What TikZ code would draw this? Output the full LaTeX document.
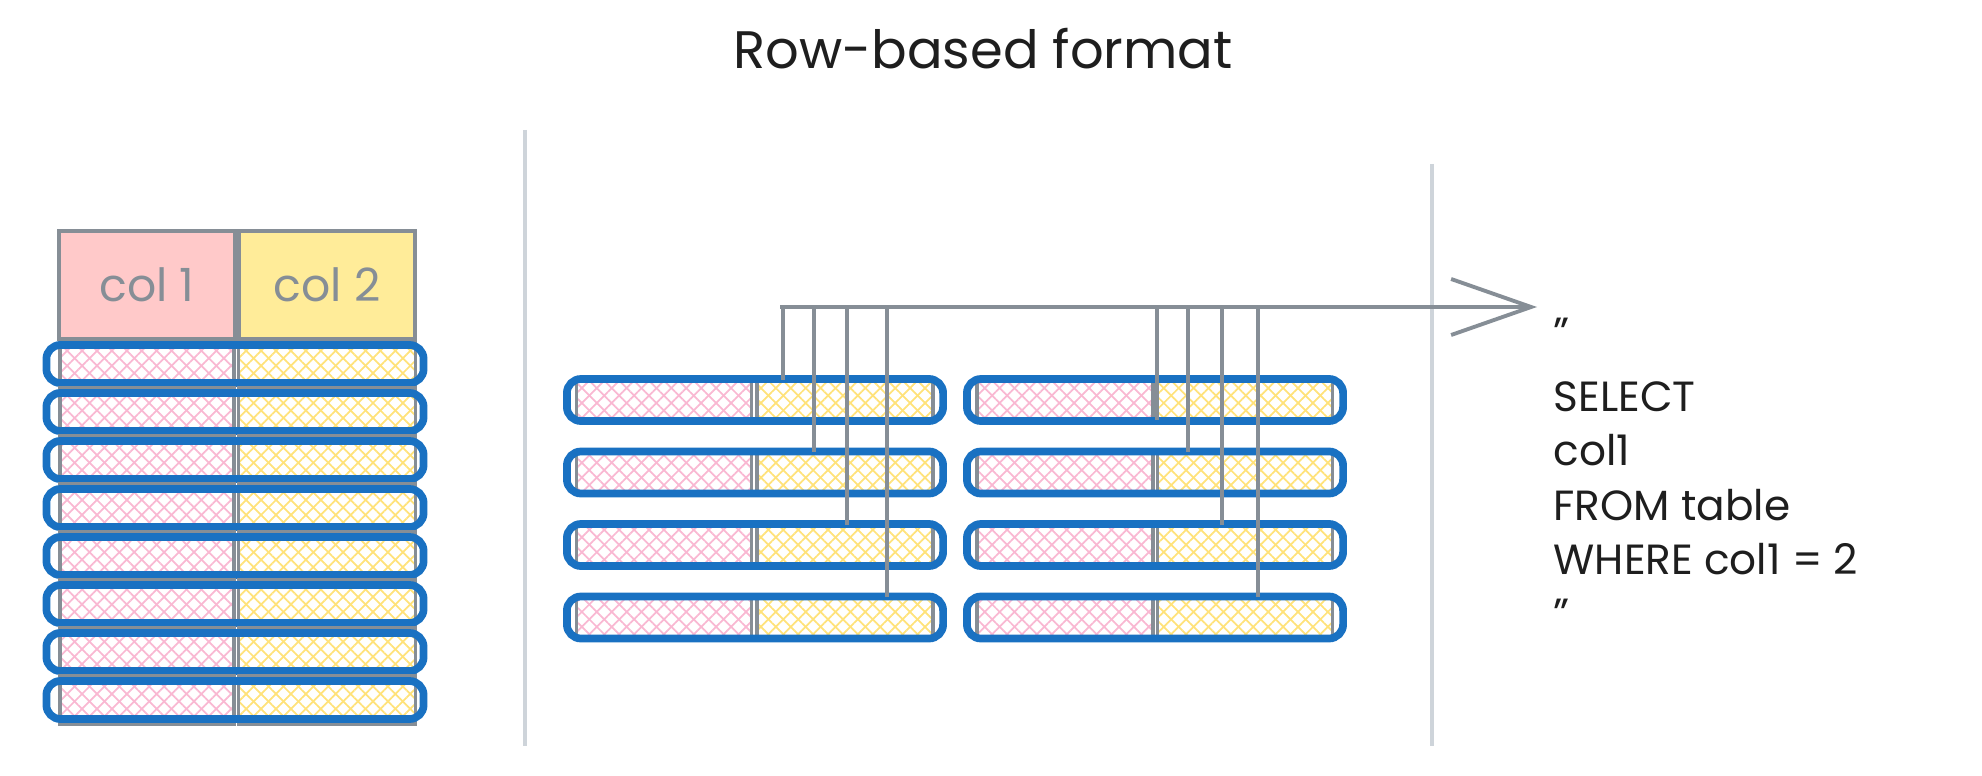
\documentclass[tikz,border=0pt]{standalone}
\usepackage{fontspec}
\setmainfont{Poppins}
\usetikzlibrary{patterns.meta,arrows.meta}

\definecolor{sketchblue}{HTML}{1971C2}
\definecolor{sketchgrey}{HTML}{868E96}
\definecolor{rulegrey}{HTML}{CED4DA}
\definecolor{headpink}{HTML}{FFC9C9}
\definecolor{headyellow}{HTML}{FFEC99}
\definecolor{hatchpink}{HTML}{F9B8D2}
\definecolor{hatchyellow}{HTML}{FFE27A}
\definecolor{inkblack}{HTML}{1E1E1E}

\tikzset{
  cell/.style={draw=sketchgrey, line width=1pt, inner sep=0pt, outer sep=0pt},
  pinkcell/.style={cell,
    preaction={pattern={Lines[angle=45,distance=3pt,line width=0.5pt]}, pattern color=hatchpink},
    preaction={pattern={Lines[angle=-45,distance=3pt,line width=0.5pt]}, pattern color=hatchpink}},
  yellowcell/.style={cell,
    preaction={pattern={Lines[angle=45,distance=3pt,line width=0.5pt]}, pattern color=hatchyellow},
    preaction={pattern={Lines[angle=-45,distance=3pt,line width=0.5pt]}, pattern color=hatchyellow}},
  headcell/.style={cell, minimum width=1.76cm, minimum height=1.08cm,
    text=sketchgrey, font=\fontsize{13}{15}\selectfont},
  rowbox/.style={draw=sketchblue, line width=2.2pt, rounded corners=4pt,
    inner sep=0pt, outer sep=0pt},
  wire/.style={draw=sketchgrey, line width=1.1pt},
  divider/.style={draw=rulegrey, line width=1.2pt}
}

\begin{document}
\begin{tikzpicture}[x=0.01cm, y=-0.01cm]
  \useasboundingbox (0,0) rectangle (1982,776);

  % Title
  \node[text=inkblack, font=\fontsize{15}{18}\selectfont] (title) at (983,49) {Row-based format};

  % Dividers
  \draw[divider] (525,130) -- (525,746);
  \draw[divider] (1432,164) -- (1432,746);

  % Table with its header
  \node[headcell, fill=headpink] (h1) at (147,285) {col 1};
  \node[headcell, fill=headyellow] (h2) at (327,285) {col 2};
  \foreach \i [evaluate=\i as \yy using 364+48*(\i-1)] in {1,...,8} {
    \node[pinkcell, minimum width=1.74cm, minimum height=0.48cm] (ta\i) at (147,\yy) {};
    \node[yellowcell, minimum width=1.77cm, minimum height=0.48cm] (tb\i) at (327,\yy) {};
    \node[rowbox, minimum width=3.77cm, minimum height=0.38cm] (T\i) at (235,\yy) {};
  }

  % Rows stored one after another
  \foreach \i [evaluate=\i as \yy using 400+72.5*(\i-1)] in {1,...,4} {
    \node[pinkcell, minimum width=1.75cm, minimum height=0.40cm] (la\i) at (664,\yy) {};
    \node[yellowcell, minimum width=1.76cm, minimum height=0.40cm] (lb\i) at (845,\yy) {};
    \node[rowbox, minimum width=3.76cm, minimum height=0.42cm] (L\i) at (755,\yy) {};
    \node[pinkcell, minimum width=1.76cm, minimum height=0.40cm] (ra\i) at (1065,\yy) {};
    \node[yellowcell, minimum width=1.75cm, minimum height=0.40cm] (rb\i) at (1245,\yy) {};
    \node[rowbox, minimum width=3.76cm, minimum height=0.42cm] (R\i) at (1155,\yy) {};
  }

  % Scan towards the query
  \coordinate (busstart) at (780,307);
  \coordinate (bustip) at (1537,307);
  \draw[wire, -{Straight Barb[length=0.8cm, width=0.56cm]}] (busstart) -- (bustip);
  \foreach \x/\r in {783/1, 814/2, 847/3, 887/4} {
    \coordinate (lt\r) at (\x,307);
    \draw[wire] (lt\r) -- (lt\r |- lb\r.north);
  }
  \foreach \x/\r/\a in {1157/1/south, 1188/2/north, 1222/3/north, 1258/4/north} {
    \coordinate (rt\r) at (\x,307);
    \draw[wire] (rt\r) -- (rt\r |- rb\r.\a);
  }

  % Query
  \node[anchor=north west, align=left, inner sep=0pt, text=inkblack,
    font=\fontsize{12}{15.4}\selectfont] (query) at (1553,317)
    {"\\[3pt]SELECT\\col1\\FROM table\\WHERE col1 = 2\\"};
\end{tikzpicture}
\end{document}
